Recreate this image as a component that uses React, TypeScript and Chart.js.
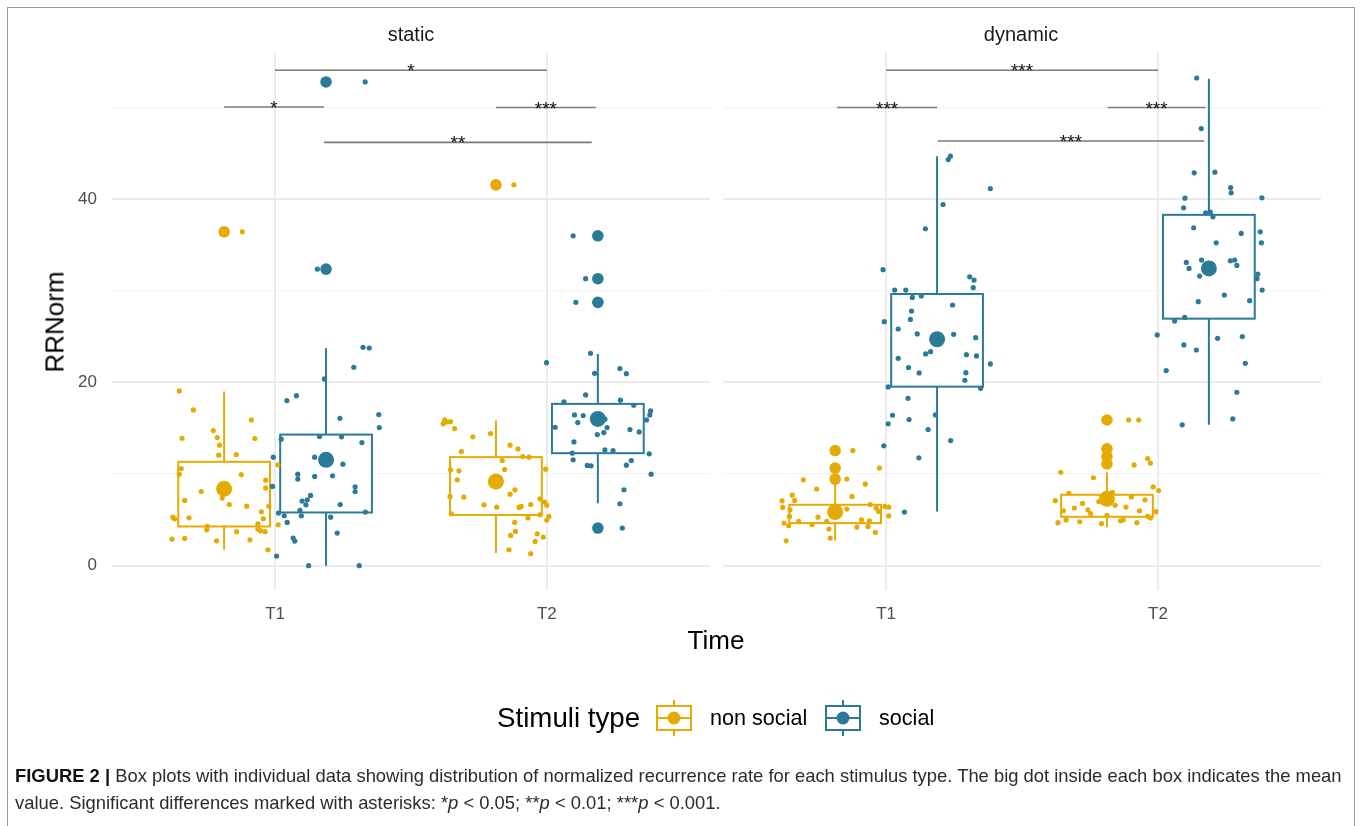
import React, { useEffect, useRef } from 'react';
import { Chart, registerables } from 'chart.js';
Chart.register(...registerables);

const FONT = '"Liberation Sans", Arial, Helvetica, sans-serif';

const panels = ['static', 'dynamic'];
const times = ['T1', 'T2'];
const stimuli = ['non social', 'social'];
const colors = ['#E6AB02', '#2B7A98'];

// group order: static T1 ns, static T1 s, static T2 ns, static T2 s, dynamic T1 ns, dynamic T1 s, dynamic T2 ns, dynamic T2 s
const boxQ1 = [4.28, 5.81, 5.53, 12.28, 4.65, 19.54, 5.34, 26.96];
const boxQ3 = [11.34, 14.31, 11.85, 17.66, 6.65, 29.65, 7.74, 38.29];
const whiskerLow = [1.74, 0, 1.38, 6.83, 2.76, 5.92, 4.2, 15.37];
const whiskerHigh = [19.0, 23.73, 15.84, 23.11, 9.2, 44.69, 10.2, 53.15];
const means = [8.39, 11.55, 9.19, 16.02, 5.85, 24.71, 7.3, 32.44];
const outliers: number[][] = [[36.44], [32.37, 52.79], [41.56], [36.0, 31.32, 28.74, 4.11], [12.57, 10.65, 9.45], [], [15.9, 12.75, 11.9, 11.1], []];

// individual observations: [jitter offset, RRNorm]
const staticT1NonSocial: [number, number][] = [
  [-0.165, 19.07], [-0.113, 17.0], [0.1, 15.91], [-0.04, 14.75], [-0.025, 13.99], [-0.155, 13.91], [0.113, 13.88],
  [-0.017, 13.15], [-0.02, 12.06], [0.045, 12.13], [-0.158, 10.61], [-0.165, 9.99], [0.063, 9.95], [0.153, 9.34],
  [0.153, 8.47], [-0.084, 8.1], [-0.007, 7.38], [-0.145, 7.12], [0.019, 6.68], [0.083, 6.5], [0.165, 6.5],
  [0.137, 5.89], [-0.189, 5.3], [-0.182, 5.12], [-0.129, 5.23], [0.144, 5.12], [0.124, 4.58], [-0.062, 4.29],
  [-0.064, 3.92], [0.124, 4.0], [0.134, 3.81], [0.046, 3.71], [0.151, 3.71], [-0.192, 2.91], [-0.145, 2.98],
  [-0.028, 2.72], [0.095, 2.83], [0.161, 1.74], [0.199, 4.47], [0.198, 11.0], [0.067, 36.44],
];
const staticT1Social: [number, number][] = [
  [0.136, 23.83], [0.159, 23.76], [0.102, 21.65], [-0.006, 20.38], [-0.144, 18.02], [-0.109, 18.56], [0.194, 16.49],
  [0.196, 15.08], [0.051, 16.09], [-0.024, 14.1], [0.057, 14.06], [0.132, 13.44], [-0.165, 13.81], [-0.194, 11.84],
  [-0.042, 11.84], [0.062, 11.08], [-0.104, 9.99], [-0.104, 9.45], [-0.042, 9.74], [0.024, 9.81], [0.107, 8.61],
  [0.107, 8.1], [-0.197, 8.65], [-0.057, 7.67], [-0.069, 7.19], [-0.088, 7.05], [-0.074, 6.65], [0.052, 6.68],
  [0.145, 5.85], [-0.175, 5.74], [-0.154, 5.45], [-0.096, 6.03], [-0.091, 5.45], [0.017, 5.3], [-0.143, 4.72],
  [0.041, 3.56], [-0.121, 3.02], [-0.115, 2.69], [-0.182, 1.05], [-0.064, 0.0], [0.122, 0.0], [-0.032, 32.37], [0.144, 52.79],
];
const staticT2NonSocial: [number, number][] = [
  [-0.189, 15.91], [-0.179, 15.69], [-0.167, 15.73], [-0.194, 15.48], [-0.152, 14.97], [-0.085, 14.06], [-0.02, 14.42],
  [0.052, 13.15], [0.081, 12.75], [-0.127, 12.46], [0.099, 11.92], [0.122, 11.84], [0.023, 11.48], [-0.167, 10.46],
  [-0.136, 10.35], [0.032, 10.5], [0.183, 10.54], [-0.142, 9.37], [-0.169, 7.56], [-0.118, 7.48], [0.052, 7.81],
  [0.07, 8.28], [-0.044, 6.65], [0.003, 6.39], [0.085, 6.36], [0.093, 6.47], [0.128, 6.68], [0.162, 7.3],
  [0.179, 6.94], [0.187, 6.61], [-0.164, 5.67], [0.118, 5.2], [0.162, 5.56], [0.195, 5.38], [0.187, 4.98],
  [0.069, 4.72], [0.072, 3.74], [0.054, 3.31], [0.152, 3.49], [0.174, 3.12], [0.144, 2.65], [0.048, 1.74],
  [0.128, 1.31], [0.066, 41.56],
];
const staticT2Social: [number, number][] = [
  [-0.027, 23.18], [-0.189, 22.16], [-0.012, 21.0], [0.081, 21.51], [0.105, 20.96], [-0.045, 18.64], [-0.125, 17.87],
  [0.083, 18.06], [0.132, 17.51], [0.194, 16.89], [0.191, 16.46], [0.179, 15.91], [-0.086, 16.46], [-0.054, 16.39],
  [-0.074, 15.62], [0.026, 15.99], [-0.157, 15.11], [0.034, 15.08], [-0.002, 14.31], [0.022, 14.53], [0.118, 14.86],
  [0.152, 14.6], [-0.088, 13.51], [0.026, 12.64], [0.056, 12.57], [-0.094, 12.28], [0.189, 12.21], [-0.091, 11.55],
  [-0.039, 10.94], [-0.025, 10.9], [0.123, 11.48], [0.105, 10.97], [0.196, 9.99], [0.096, 8.28], [0.081, 6.76],
  [0.09, 4.11], [-0.091, 36.0], [-0.045, 31.32], [-0.081, 28.74],
];
const dynamicT1NonSocial: [number, number][] = [
  [0.065, 12.57], [-0.117, 9.37], [0.043, 9.45], [-0.068, 8.36], [0.111, 8.9], [-0.158, 7.7], [0.062, 7.56],
  [0.163, 10.65], [-0.195, 7.08], [-0.149, 7.12], [-0.193, 6.36], [0.129, 6.68], [0.151, 6.29], [0.16, 5.92],
  [0.183, 6.47], [0.197, 6.39], [0.197, 5.45], [-0.166, 6.1], [-0.168, 5.38], [-0.134, 4.83], [-0.063, 5.3],
  [0.043, 6.18], [0.097, 5.01], [0.126, 4.9], [-0.188, 4.65], [-0.171, 4.36], [-0.085, 4.47], [-0.031, 4.83],
  [-0.023, 4.0], [0.08, 4.21], [0.121, 4.29], [0.148, 3.63], [-0.018, 3.02], [-0.18, 2.72],
];
const dynamicT1Social: [number, number][] = [
  [0.041, 44.32], [0.049, 44.69], [0.196, 41.16], [0.022, 39.42], [-0.043, 36.77], [-0.199, 32.3], [0.12, 31.53],
  [0.136, 31.17], [0.133, 30.34], [-0.156, 30.08], [-0.115, 30.08], [-0.091, 29.28], [-0.058, 29.43], [0.057, 28.45],
  [-0.094, 27.79], [-0.098, 26.88], [-0.194, 26.63], [-0.143, 25.83], [-0.073, 25.29], [0.061, 25.25], [0.142, 24.89],
  [-0.042, 23.11], [-0.024, 23.36], [-0.143, 22.63], [0.108, 23.03], [0.145, 22.89], [0.196, 22.02], [-0.105, 21.62],
  [-0.066, 21.04], [0.106, 21.07], [0.102, 20.24], [-0.18, 19.51], [0.16, 19.36], [-0.107, 18.27], [-0.164, 16.42],
  [-0.103, 15.95], [-0.006, 16.46], [-0.18, 15.48], [-0.033, 14.86], [0.05, 13.66], [-0.196, 13.08], [-0.067, 11.77],
  [-0.12, 5.85],
];
const dynamicT2NonSocial: [number, number][] = [
  [0.08, 15.9], [0.117, 15.9], [-0.17, 10.2], [-0.05, 9.6], [0.1, 11.0], [0.15, 11.7], [0.16, 11.2], [-0.18, 4.7],
  [-0.15, 5.0], [-0.12, 6.3], [-0.09, 6.8], [-0.06, 5.7], [-0.03, 7.0], [0.0, 5.5], [0.03, 6.6], [0.06, 5.0],
  [0.09, 7.5], [0.12, 6.0], [0.15, 5.4], [0.18, 5.9], [0.19, 8.2], [0.17, 8.6], [-0.19, 7.1], [-0.14, 7.9],
  [-0.1, 4.8], [-0.02, 4.6], [0.05, 4.9], [0.11, 4.7], [0.14, 7.2], [-0.07, 6.1], [0.02, 8.0], [0.07, 6.4],
  [0.16, 5.2], [-0.16, 6.0],
];
const dynamicT2Social: [number, number][] = [
  [-0.045, 53.22], [-0.028, 47.7], [-0.054, 42.87], [0.022, 42.94], [0.08, 41.27], [0.082, 40.69], [-0.088, 40.11],
  [0.195, 40.15], [-0.093, 39.06], [-0.012, 38.51], [0.005, 38.58], [0.015, 38.07], [-0.056, 36.88], [0.119, 36.26],
  [0.189, 36.44], [0.193, 35.24], [0.027, 35.24], [-0.083, 33.1], [-0.073, 32.44], [-0.027, 33.35], [0.079, 33.28],
  [0.095, 33.35], [0.103, 32.77], [-0.034, 31.61], [0.18, 31.83], [0.177, 31.32], [0.196, 30.08], [0.057, 29.54],
  [-0.039, 28.81], [0.15, 28.92], [-0.126, 26.7], [-0.089, 27.1], [-0.19, 25.18], [0.032, 24.81], [0.123, 25.0],
  [-0.092, 24.09], [-0.046, 23.54], [0.134, 22.09], [-0.157, 21.29], [0.103, 18.93], [0.088, 16.02], [-0.098, 15.37],
];
const observations = [
  staticT1NonSocial, staticT1Social, staticT2NonSocial, staticT2Social,
  dynamicT1NonSocial, dynamicT1Social, dynamicT2NonSocial, dynamicT2Social,
];

// significance brackets (positions relative to the panel's T1)
const sigPanel = [0, 0, 0, 0, 1, 1, 1, 1];
const sigStart = [0.0, -0.1875, 0.8125, 0.18, 0.0, -0.18, 0.815, 0.19];
const sigEnd = [1.0, 0.18, 1.18, 1.165, 1.0, 0.1875, 1.175, 1.17];
const sigValue = [54.06, 50.06, 50.0, 46.2, 54.06, 50.0, 50.0, 46.35];
const sigLabel = ['*', '*', '***', '**', '***', '***', '***', '***'];

const yTickValues = [0, 10, 20, 30, 40, 50];

const GAP = 0.048;
const panelBase = (p: number) => 1 + p * (2.2 + GAP);
const dodge = [-0.1875, 0.1875];
const BOX_HALF = 0.16875;
const groupX = (g: number) => {
  const p = Math.floor(g / 4);
  const t = Math.floor(g / 2) % 2;
  const s = g % 2;
  return panelBase(p) + t + dodge[s];
};
const xTickValues = [panelBase(0), panelBase(0) + 1, panelBase(1), panelBase(1) + 1];

const boxPlugin = {
  id: 'boxes',
  beforeDatasetsDraw(chart: any) {
    const { ctx, chartArea, scales } = chart;
    const x = scales.x;
    const y = scales.y;
    ctx.save();
    const g0 = x.getPixelForValue(panelBase(0) + 1.6);
    const g1 = x.getPixelForValue(panelBase(1) - 0.6);
    ctx.fillStyle = '#ffffff';
    ctx.fillRect(g0, chartArea.top - 2, g1 - g0, chartArea.bottom - chartArea.top + 4);
    for (let g = 0; g < 8; g++) {
      const s = g % 2;
      const cx = x.getPixelForValue(groupX(g));
      const l = x.getPixelForValue(groupX(g) - BOX_HALF);
      const r = x.getPixelForValue(groupX(g) + BOX_HALF);
      const yq1 = y.getPixelForValue(boxQ1[g]);
      const yq3 = y.getPixelForValue(boxQ3[g]);
      const ylo = y.getPixelForValue(whiskerLow[g]);
      const yhi = y.getPixelForValue(whiskerHigh[g]);
      ctx.strokeStyle = colors[s];
      ctx.lineWidth = 2;
      ctx.beginPath();
      ctx.moveTo(cx, yq3);
      ctx.lineTo(cx, yhi);
      ctx.moveTo(cx, yq1);
      ctx.lineTo(cx, ylo);
      ctx.stroke();
      ctx.fillStyle = '#ffffff';
      ctx.fillRect(l, yq3, r - l, yq1 - yq3);
      ctx.strokeRect(l, yq3, r - l, yq1 - yq3);
    }
    ctx.restore();
  },
  afterDatasetsDraw(chart: any) {
    const { ctx, scales } = chart;
    const x = scales.x;
    const y = scales.y;
    ctx.save();
    for (let i = 0; i < sigLabel.length; i++) {
      const base = panelBase(sigPanel[i]);
      const x0 = x.getPixelForValue(base + sigStart[i]);
      const x1 = x.getPixelForValue(base + sigEnd[i]);
      const yy = y.getPixelForValue(sigValue[i]);
      ctx.strokeStyle = '#7a7a7a';
      ctx.lineWidth = 1.6;
      ctx.beginPath();
      ctx.moveTo(x0, yy);
      ctx.lineTo(x1, yy);
      ctx.stroke();
      ctx.fillStyle = '#111111';
      ctx.font = `19px ${FONT}`;
      ctx.textAlign = 'center';
      ctx.textBaseline = 'alphabetic';
      ctx.fillText(sigLabel[i], (x0 + x1) / 2, yy + 7);
    }
    ctx.restore();
  },
};

function LegendKey({ color }: { color: string }) {
  return (
    <svg width={40} height={40} style={{ display: 'block' }}>
      <line x1={20} y1={2} x2={20} y2={38} stroke={color} strokeWidth={2} />
      <rect x={3} y={8} width={34} height={24} fill="#fff" stroke={color} strokeWidth={2} />
      <line x1={3} y1={20} x2={37} y2={20} stroke={color} strokeWidth={2} />
      <circle cx={20} cy={20} r={6.5} fill={color} />
    </svg>
  );
}

export default function App() {
  const ref = useRef<HTMLCanvasElement | null>(null);
  useEffect(() => {
    if (!ref.current) return;
    const datasets: any[] = [];
    for (let s = 0; s < 2; s++) {
      const jit: any[] = [];
      const out: any[] = [];
      const mn: any[] = [];
      for (let g = s; g < 8; g += 2) {
        observations[g].forEach(([dx, v]) => jit.push({ x: groupX(g) + dx, y: v }));
        outliers[g].forEach((v) => out.push({ x: groupX(g), y: v }));
        mn.push({ x: groupX(g), y: means[g] });
      }
      datasets.push({ label: stimuli[s] + ' points', data: jit, backgroundColor: colors[s], borderWidth: 0, pointRadius: 2.6, order: 5 - s });
      datasets.push({ label: stimuli[s] + ' outliers', data: out, backgroundColor: colors[s], borderWidth: 0, pointRadius: 5.8, order: 3 });
      datasets.push({ label: stimuli[s] + ' mean', data: mn, backgroundColor: colors[s], borderWidth: 0, pointRadius: 8, order: 1 });
    }
    const chart = new Chart(ref.current, {
      type: 'scatter',
      data: { datasets },
      plugins: [boxPlugin],
      options: {
        animation: false,
        responsive: false,
        layout: { padding: { left: 0, right: 41, top: 53, bottom: 196 } },
        plugins: { legend: { display: false }, tooltip: { enabled: false } },
        scales: {
          x: {
            type: 'linear',
            min: 0.4,
            max: panelBase(1) + 1.6,
            afterBuildTicks: (sc: any) => { sc.ticks = xTickValues.map((v) => ({ value: v })); },
            afterFit: (sc: any) => { sc.height = 40; },
            ticks: {
              padding: 14,
              color: '#4D4D4D',
              font: { family: FONT, size: 17 },
              callback: (v: any) => {
                const i = xTickValues.findIndex((t) => Math.abs(t - v) < 1e-6);
                return i >= 0 ? times[i % 2] : '';
              },
            },
            grid: { color: '#EBEBEB', lineWidth: 2, drawTicks: false },
            border: { display: false },
          },
          y: {
            type: 'linear',
            min: -2.65,
            max: 55.95,
            afterBuildTicks: (sc: any) => { sc.ticks = yTickValues.map((v) => ({ value: v })); },
            afterFit: (sc: any) => { sc.width = 112; },
            ticks: {
              padding: 15,
              color: '#4D4D4D',
              font: { family: FONT, size: 17 },
              callback: (v: any) => (Number(v) % 20 === 0 ? String(v) : ''),
            },
            grid: {
              color: (c: any) => (c.tick && c.tick.value % 20 === 0 ? '#EBEBEB' : '#F3F3F3'),
              lineWidth: (c: any) => (c.tick && c.tick.value % 20 === 0 ? 2 : 1.2),
              drawTicks: false,
            },
            border: { display: false },
          },
        },
      },
    });
    return () => chart.destroy();
  }, []);

  const text: React.CSSProperties = { position: 'absolute', fontFamily: FONT, whiteSpace: 'nowrap' };
  return (
    <div style={{ position: 'absolute', left: 0, top: 0, width: 1362, height: 826, overflow: 'hidden', background: '#fff' }}>
      <div style={{ position: 'absolute', left: 7, top: 7, width: 1346, height: 840, border: '1px solid #9a9a9a' }} />
      <canvas ref={ref} width={1362} height={826} style={{ position: 'absolute', left: 0, top: 0 }} />
      <div style={{ ...text, left: 411, top: 34, transform: 'translate(-50%,-50%)', fontSize: 20, color: '#1A1A1A' }}>{panels[0]}</div>
      <div style={{ ...text, left: 1021, top: 34, transform: 'translate(-50%,-50%)', fontSize: 20, color: '#1A1A1A' }}>{panels[1]}</div>
      <div style={{ ...text, left: 55, top: 322, transform: 'translate(-50%,-50%) rotate(-90deg)', fontSize: 26, color: '#000' }}>RRNorm</div>
      <div style={{ ...text, left: 716, top: 640, transform: 'translate(-50%,-50%)', fontSize: 26, color: '#000' }}>Time</div>
      <div style={{ ...text, left: 497, top: 718, transform: 'translateY(-50%)', fontSize: 27.7, color: '#000' }}>Stimuli type</div>
      <div style={{ position: 'absolute', left: 654, top: 698 }}><LegendKey color={colors[0]} /></div>
      <div style={{ ...text, left: 710, top: 718, transform: 'translateY(-50%)', fontSize: 21.6, color: '#000' }}>{stimuli[0]}</div>
      <div style={{ position: 'absolute', left: 823, top: 698 }}><LegendKey color={colors[1]} /></div>
      <div style={{ ...text, left: 879, top: 718, transform: 'translateY(-50%)', fontSize: 21.6, color: '#000' }}>{stimuli[1]}</div>
      <div style={{ position: 'absolute', left: 15, top: 762, fontFamily: FONT, fontSize: 18.4, lineHeight: '27px', color: '#2b2b2b', whiteSpace: 'nowrap' }}>
        <b style={{ color: '#111' }}>FIGURE 2 |</b> Box plots with individual data showing distribution of normalized recurrence rate for each stimulus type. The big dot inside each box indicates the mean
        <br />
        value. Significant differences marked with asterisks: *<i>p</i> &lt; 0.05; **<i>p</i> &lt; 0.01; ***<i>p</i> &lt; 0.001.
      </div>
    </div>
  );
}
